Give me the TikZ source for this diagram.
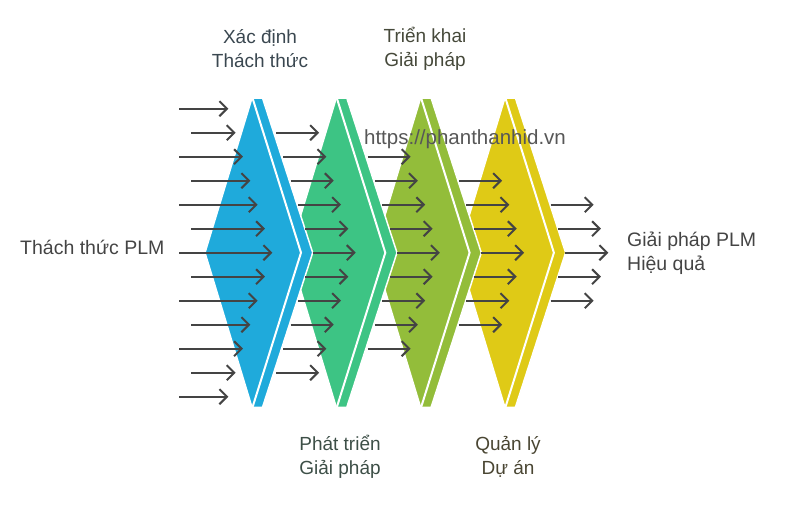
\documentclass[tikz,border=0pt]{standalone}
\usepackage{fontspec}
\setmainfont{Liberation Sans}
\usetikzlibrary{arrows.meta}
\definecolor{plmblue}{HTML}{1FAADB}
\definecolor{plmgreen}{HTML}{3DC484}
\definecolor{plmolive}{HTML}{93BD3A}
\definecolor{plmyellow}{HTML}{DFCA16}
\definecolor{plmarrow}{HTML}{444444}
\definecolor{plmtext}{HTML}{444444}
\definecolor{plmbluetext}{HTML}{3A4750}
\definecolor{plmgreentext}{HTML}{3D4F47}
\definecolor{plmolivetext}{HTML}{46493A}
\definecolor{plmyellowtext}{HTML}{4A4633}
\tikzset{
  flow/.style={draw=plmarrow,line width=2pt,-{Straight Barb[length=7.5pt,width=15pt]}},
  phasetext/.style={font=\fontsize{19}{24}\selectfont,align=center,inner sep=0pt},
  sidetext/.style={font=\fontsize{19.5}{24}\selectfont,align=left,inner sep=0pt,text=plmtext,anchor=west}
}
\begin{document}
\begin{tikzpicture}[x=1pt,y=-1pt]
\useasboundingbox (0,0) rectangle (793,530);
% the four phases, drawn from right to left
\foreach \s/\col in {3/plmyellow,2/plmolive,1/plmgreen,0/plmblue}{
  \pgfmathsetmacro\T{252+84.3*\s}
  \fill[\col,draw=white,line width=1.5pt] (\T,98) -- (\T+10.5,98) -- (\T+60.7,252.7)
    -- (\T+10.5,407.3) -- (\T,407.3) -- (\T-47,252.7) -- cycle;
  \draw[white,line width=2pt] (\T+0.5,98) -- (\T+49,252.7) -- (\T+0.5,407.3);
}
% incoming arrows
\foreach \k in {-6,...,6}{
  \pgfmathsetmacro\xa{isodd(abs(\k)) ? 191 : 179.3}
  \pgfmathsetmacro\xb{272.3-7.33*abs(\k)}
  \draw[flow] (\xa,252.7+24*\k) -- (\xb,252.7+24*\k);
}
% arrows after each phase
\foreach \c in {1,...,4}{
  \pgfmathtruncatemacro\n{6-\c}
  \pgfmathtruncatemacro\m{\c-6}
  \foreach \k in {\m,...,\n}{
    \pgfmathsetmacro\xa{312.7+84.2*(\c-1)-7.33*abs(\k)}
    \draw[flow] (\xa,252.7+24*\k) -- (\xa+43,252.7+24*\k);
  }
}
\node[sidetext] (challenge) at (20,247) {Thách thức PLM};
\node[sidetext] (solution) at (627,253) {Giải pháp PLM\\Hiệu quả};
\node[phasetext,text=plmbluetext] (define) at (260,49) {Xác định\\Thách thức};
\node[phasetext,text=plmgreentext] (develop) at (340,457) {Phát triển\\Giải pháp};
\node[phasetext,text=plmolivetext] (deploy) at (425,49) {Triển khai\\Giải pháp};
\node[phasetext,text=plmyellowtext] (manage) at (508,457) {Quản lý\\Dự án};
\node[font=\fontsize{20.5}{24}\selectfont,text=plmtext!90,inner sep=0pt] (url) at (465,139) {https://phanthanhid.vn};
\end{tikzpicture}
\end{document}
